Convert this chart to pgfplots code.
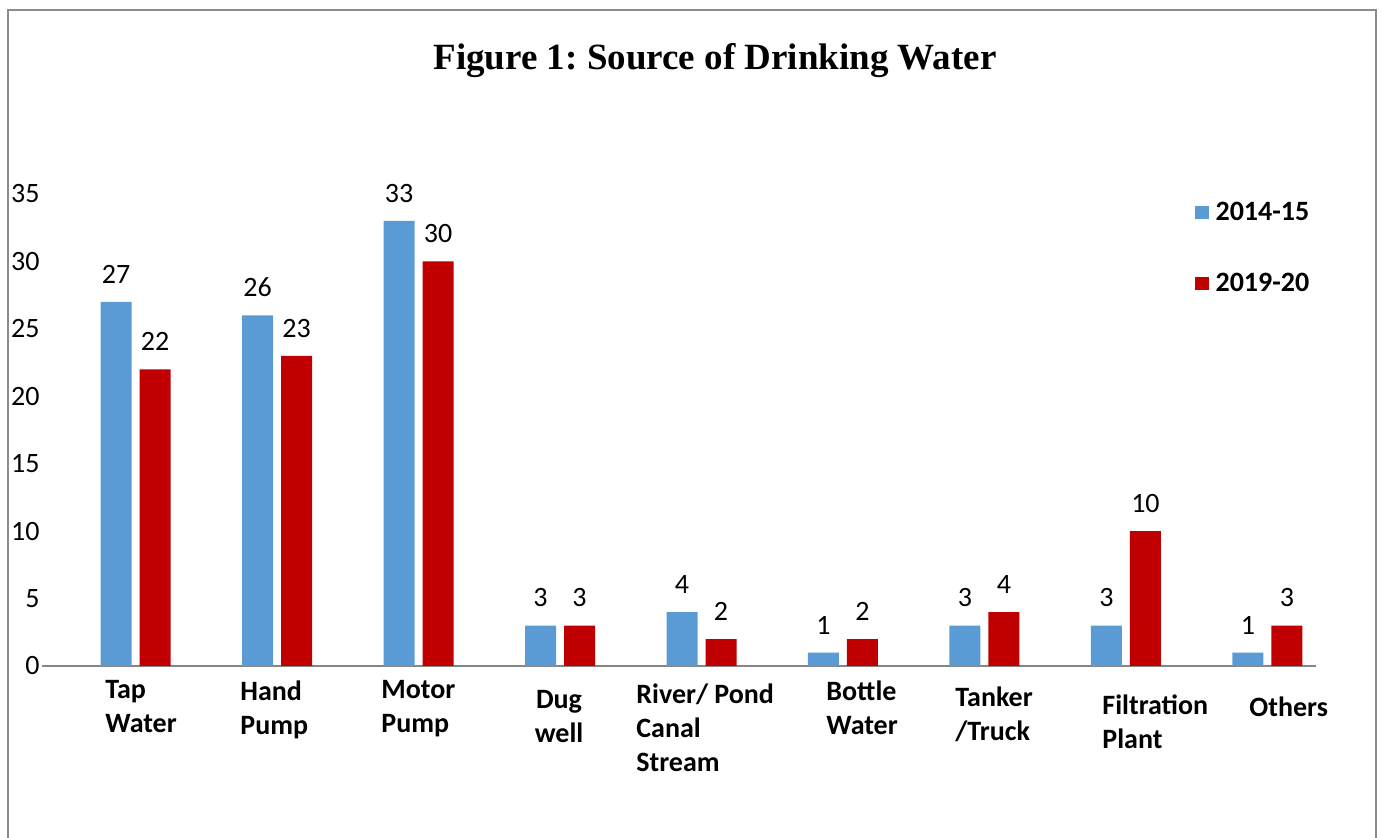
\documentclass[border=0pt]{standalone}
\usepackage{pgfplots}
\pgfplotsset{compat=1.18}
\usepackage{fontspec}
\setmainfont{Carlito}
\newfontfamily\titlefont{Liberation Serif}
\definecolor{blueS}{HTML}{5B9BD5}
\definecolor{redS}{HTML}{C00000}
\definecolor{frameG}{HTML}{8C8C8C}
\definecolor{axisG}{HTML}{868686}
\frenchspacing

\begin{document}
\begin{tikzpicture}
% page is 1381 x 838 px at 0.5pt per px
\useasboundingbox (0pt,0pt) rectangle (690.5pt,419pt);
\draw[frameG, line width=0.8pt] (4pt,0pt) -- (4pt,414pt) -- (688pt,414pt) -- (688pt,0pt);

\node[anchor=base, font=\titlefont\bfseries\fontsize{18.5}{22}\selectfont]
  at (357.5pt,384pt) {Figure 1: Source of Drinking Water};

\begin{axis}[
    at={(21pt,86pt)}, anchor=south west,
    scale only axis,
    width=637pt, height=236pt,
    ybar=4pt, bar width=15.5pt,
    xmin=-0.661, xmax=8.343,
    ymin=0, ymax=35,
    ytick={0,5,...,35},
    xtick=\empty,
    axis x line*=bottom,
    axis y line*=left,
    y axis line style={draw=none},
    x axis line style={axisG, line width=0.8pt},
    major tick length=0pt,
    yticklabel style={anchor=east, inner sep=0pt, xshift=-1pt,
        font=\fontsize{14}{16}\selectfont},
    /pgf/number format/assume math mode=true,
    clip=false,
    nodes near coords,
    every node near coord/.append style={anchor=south, inner sep=0pt, yshift=9pt,
        font=\fontsize{14}{16}\selectfont, text=black},
    legend style={at={(0.905,0.993)}, anchor=north west, draw=none, fill=none,
        inner sep=0pt, row sep=21pt,
        font=\bfseries\fontsize{14}{16}\selectfont,
        /tikz/every odd column/.append style={column sep=1.5pt}},
    legend image code/.code={\fill[#1] (0pt,-3.3pt) rectangle (6.6pt,3.3pt);},
]
\addplot[fill=blueS, draw=none] coordinates {
    (0,27) (1,26) (2,33) (3,3) (4,4) (5,1) (6,3) (7,3) (8,1)};
\addplot[fill=redS, draw=none] coordinates {
    (0,22) (1,23) (2,30) (3,3) (4,2) (5,2) (6,4) (7,10) (8,3)};
\legend{2014-15, 2019-20}
\end{axis}

\begin{scope}[every node/.style={font=\bfseries\fontsize{14}{17}\selectfont, inner sep=0pt, align=left, anchor=north west}]
\node at (52.5pt,79pt) {Tap\\Water};
\node at (120pt,79pt) {Hand\\Pump};
\node at (190.5pt,79pt) {Motor\\Pump};
\node[align=center, anchor=north] at (279.5pt,74pt) {Dug\\well};
\node at (318pt,77.5pt) {River/ Pond\\Canal\\Stream};
\node at (413pt,79pt) {Bottle\\Water};
\node at (477.5pt,76pt) {Tanker\\/Truck};
\node at (551pt,72pt) {Filtration\\Plant};
\node at (624.5pt,71pt) {Others};
\end{scope}
\end{tikzpicture}
\end{document}
